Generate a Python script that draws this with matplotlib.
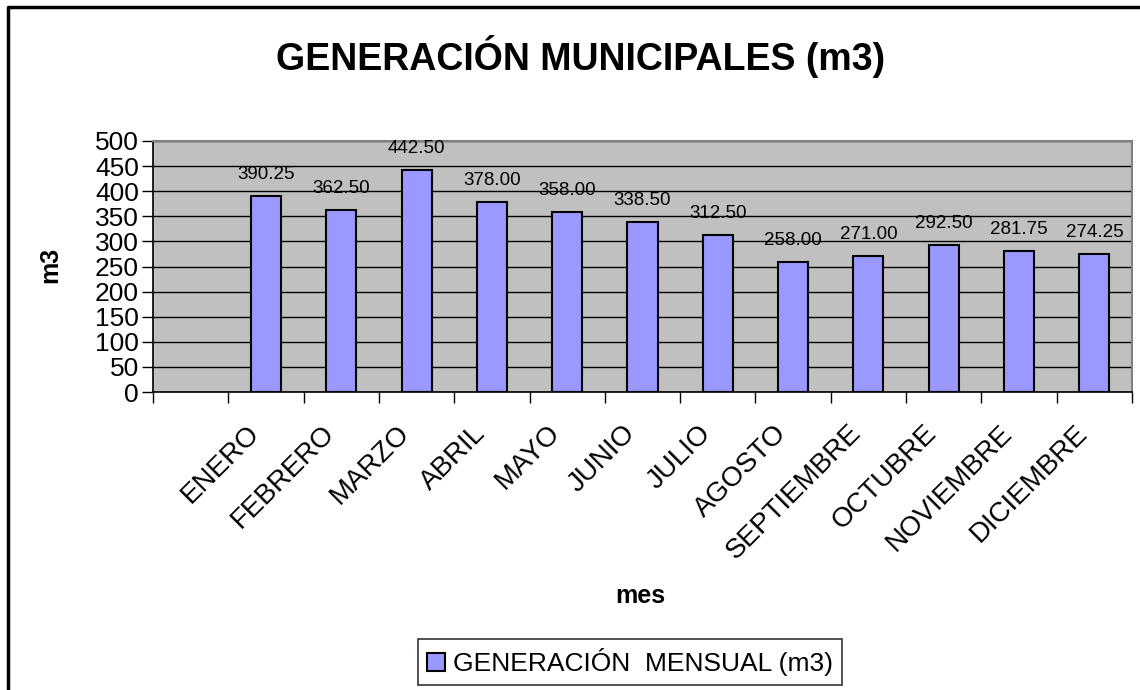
import numpy as np
import matplotlib.pyplot as plt
import matplotlib.transforms as mtransforms
from matplotlib.lines import Line2D

plt.rcParams['font.family'] = ['Liberation Sans', 'DejaVu Sans']

# datos del grafico (la primera categoria del eje esta vacia)
meses = ['ENERO', 'FEBRERO', 'MARZO', 'ABRIL', 'MAYO', 'JUNIO', 'JULIO',
         'AGOSTO', 'SEPTIEMBRE', 'OCTUBRE', 'NOVIEMBRE', 'DICIEMBRE']
generacion = [390.25, 362.50, 442.50, 378.00, 358.00, 338.50, 312.50,
              258.00, 271.00, 292.50, 281.75, 274.25]

W, H = 1140, 690
fig = plt.figure(figsize=(W / 100, H / 100), dpi=100)
ax = fig.add_axes([153 / W, 1 - 392 / H, (1132 - 153) / W, (392 - 141) / H])
ax.set_facecolor('#c0c0c0')

x = np.arange(1, len(meses) + 1)
ax.bar(x, generacion, width=0.4, color='#9999ff', edgecolor='black',
       linewidth=1.5, zorder=3, label='GENERACIÓN  MENSUAL (m3)')

ax.set_xlim(-0.5, len(meses) + 0.5)
ax.set_ylim(0, 500)
ax.set_yticks(range(0, 501, 50))
ax.yaxis.grid(True, color='black', linewidth=1)
ax.set_axisbelow(True)

ax.set_xticks(np.arange(-0.5, len(meses) + 1, 1))
ax.set_xticklabels([])
ax.tick_params(axis='x', direction='out', length=8, width=1)
ax.tick_params(axis='y', direction='out', length=8, width=1, labelsize=19, pad=2)

for side in ['top', 'right']:
    ax.spines[side].set_color('#808080')
    ax.spines[side].set_linewidth(1.5)
for side in ['left', 'bottom']:
    ax.spines[side].set_color('black')
    ax.spines[side].set_linewidth(1.2)

# etiquetas de mes giradas
off = mtransforms.ScaledTranslation(-20 / 100, -28 / 100, fig.dpi_scale_trans)
for xi, m in zip(x, meses):
    ax.text(xi, 0, m, transform=ax.get_xaxis_transform() + off,
            rotation=45, rotation_mode='anchor', ha='right', va='top',
            fontsize=20)

# valores sobre las barras
for xi, v in zip(x, generacion):
    ax.annotate(f'{v:.2f}', (xi, v), xytext=(0, 13), textcoords='offset pixels',
                ha='center', va='bottom', fontsize=13.5)

fig.text(581 / W, 1 - 57 / H, 'GENERACIÓN MUNICIPALES (m3)', fontsize=27,
         weight='bold', ha='center', va='center')
fig.text(50 / W, 1 - 265 / H, 'm3', fontsize=18, weight='bold', rotation=90,
         ha='center', va='center')
fig.text(640 / W, 1 - 596 / H, 'mes', fontsize=18, weight='bold',
         ha='center', va='center')

leg = fig.legend(loc='center', bbox_to_anchor=(630 / W, 1 - 662 / H),
                 fontsize=19, frameon=True, fancybox=False, edgecolor='black',
                 handlelength=0.7, handleheight=0.7, handletextpad=0.3,
                 borderpad=0.35)
leg.get_frame().set_linewidth(1.2)

# marco exterior del grafico
fig.add_artist(Line2D([8 / W, 8 / W, 1], [0, 1 - 6.5 / H, 1 - 6.5 / H],
                      transform=fig.transFigure, color='black', linewidth=2.5))

fig.savefig('out.png', dpi=100, facecolor='white')
